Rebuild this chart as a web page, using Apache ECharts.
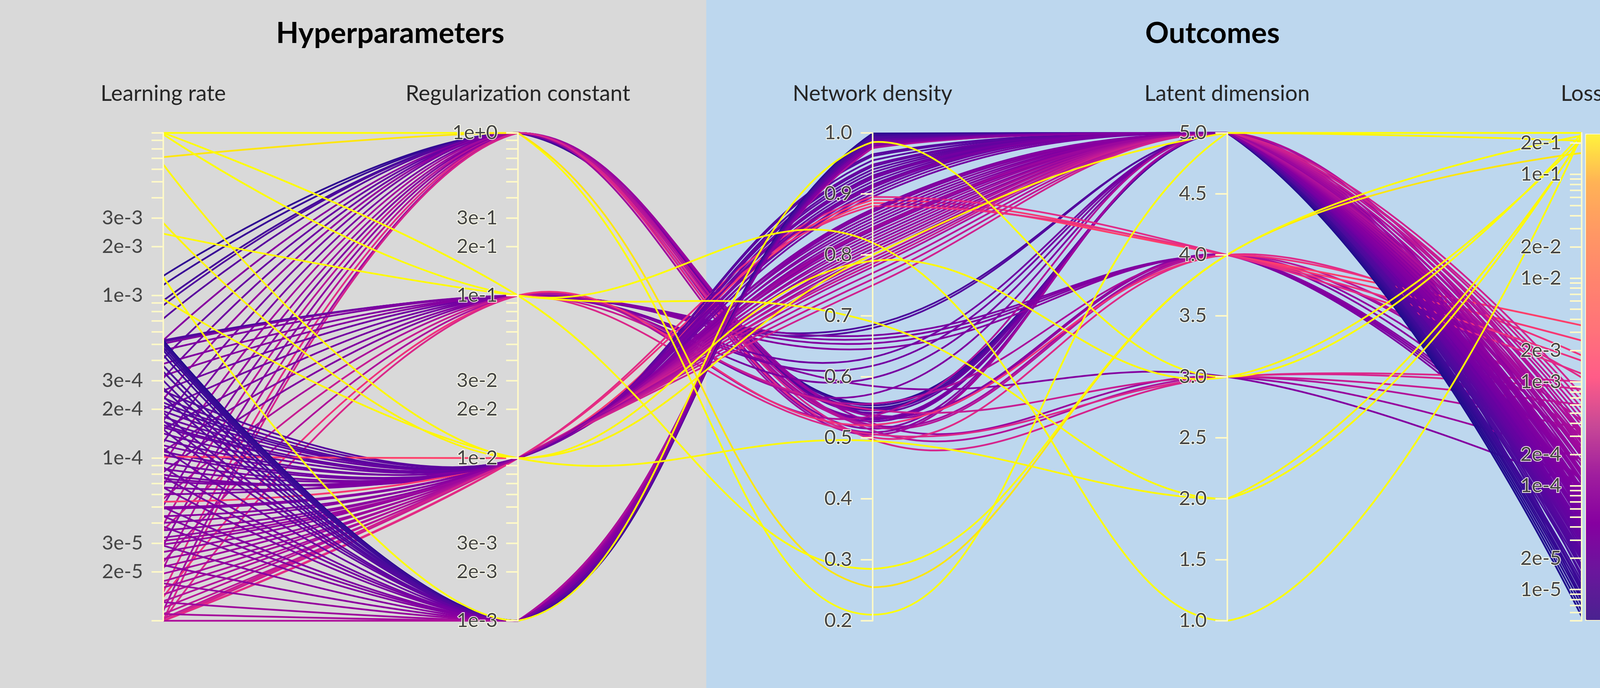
<!DOCTYPE html>
<html>
<head>
<meta charset="utf-8">
<script src="https://cdn.jsdelivr.net/npm/echarts@6/dist/echarts.min.js"></script>
<style>
html,body{margin:0;padding:0;background:#bdd7ee;overflow:hidden;}
#chart{width:4400px;height:1760px;}
</style>
</head>
<body>
<div id="chart"></div>
<script>
// ---------------- names & labels ----------------
const axisNames = ['Learning rate', 'Regularization constant', 'Network density', 'Latent dimension', 'Loss'];
const groupTitles = ['Hyperparameters', 'Outcomes'];
const lrLabelValues = [3e-3, 2e-3, 1e-3, 3e-4, 2e-4, 1e-4, 3e-5, 2e-5];
const regLabelValues = [1, 3e-1, 2e-1, 1e-1, 3e-2, 2e-2, 1e-2, 3e-3, 2e-3, 1e-3];
const lossLabelValues = [2e-1, 1e-1, 2e-2, 1e-2, 2e-3, 1e-3, 2e-4, 1e-4, 2e-5, 1e-5];

// ---------------- runs (one entry per line) ----------------
const learningRate = [
  // regularization 1e+0
  1.32e-3, 1.16e-3, 9.3e-4, 8.7e-4, 7.2e-4, 5.3e-4, 4.1e-4, 3.1e-4, 2.3e-4, 1.7e-4,
  1.25e-4, 9.2e-5, 6.8e-5, 5.1e-5, 3.9e-5, 2.9e-5, 2.1e-5, 1.5e-5, 1.15e-5, 1.0e-5,
  // regularization 1e-1
  5.3e-4, 5.2e-4, 5.05e-4, 4.6e-4, 3.8e-4, 3.2e-4, 2.6e-4, 2.0e-4, 1.5e-4, 1.1e-4,
  8.2e-5, 5.6e-5, 3.6e-5, 2.3e-5, 1.4e-5, 1.0e-5,
  // regularization 1e-2
  2.6e-4, 2.35e-4, 2.1e-4, 1.95e-4, 1.8e-4, 1.68e-4, 1.55e-4, 1.42e-4, 1.3e-4, 1.2e-4,
  1.1e-4, 1.02e-4, 9.4e-5, 8.6e-5, 7.9e-5, 7.2e-5, 6.6e-5, 6.0e-5, 5.4e-5, 4.9e-5,
  4.4e-5, 4.0e-5, 3.6e-5, 3.25e-5, 2.95e-5, 2.65e-5, 2.4e-5, 2.15e-5, 1.95e-5, 1.75e-5,
  1.6e-5, 1.45e-5, 1.32e-5, 1.2e-5, 1.1e-5, 1.03e-5, 1.0e-5, 1.0e-5, 1.0e-5, 1.0e-5,
  2.2e-4, 1.6e-4, 1.05e-4, 7.5e-5, 5.0e-5, 3.1e-5,
  // regularization 1e-3
  5.3e-4, 5.25e-4, 5.2e-4, 5.15e-4, 5.1e-4, 5.0e-4, 4.8e-4, 4.3e-4, 3.7e-4, 3.0e-4,
  2.4e-4, 1.9e-4, 1.5e-4, 1.15e-4, 8.8e-5, 6.6e-5, 5.0e-5, 3.8e-5, 2.9e-5, 2.2e-5,
  1.7e-5, 1.3e-5, 1.1e-5, 1.0e-5,
  4.6e-4, 3.4e-4, 2.7e-4, 1.7e-4, 7.7e-5, 4.4e-5,
  // high-loss runs
  1.0e-2, 7.1e-3, 1.0e-2, 9.8e-3, 2.4e-3, 6.4e-3, 2.8e-3, 1.3e-3, 9.5e-4
];

const regularization = [
  1, 1, 1, 1, 1, 1, 1, 1, 1, 1,
  1, 1, 1, 1, 1, 1, 1, 1, 1, 1,
  0.1, 0.1, 0.1, 0.1, 0.1, 0.1, 0.1, 0.1, 0.1, 0.1,
  0.1, 0.1, 0.1, 0.1, 0.1, 0.1,
  0.01, 0.01, 0.01, 0.01, 0.01, 0.01, 0.01, 0.01, 0.01, 0.01,
  0.01, 0.01, 0.01, 0.01, 0.01, 0.01, 0.01, 0.01, 0.01, 0.01,
  0.01, 0.01, 0.01, 0.01, 0.01, 0.01, 0.01, 0.01, 0.01, 0.01,
  0.01, 0.01, 0.01, 0.01, 0.01, 0.01, 0.01, 0.01, 0.01, 0.01,
  0.01, 0.01, 0.01, 0.01, 0.01, 0.01,
  0.001, 0.001, 0.001, 0.001, 0.001, 0.001, 0.001, 0.001, 0.001, 0.001,
  0.001, 0.001, 0.001, 0.001, 0.001, 0.001, 0.001, 0.001, 0.001, 0.001,
  0.001, 0.001, 0.001, 0.001,
  0.001, 0.001, 0.001, 0.001, 0.001, 0.001,
  1, 1, 0.1, 0.1, 0.1, 0.01, 0.01, 0.001, 0.01
];

const networkDensity = [
  0.556, 0.549, 0.553, 0.545, 0.547, 0.538, 0.541, 0.530, 0.535, 0.527,
  0.532, 0.521, 0.524, 0.515, 0.518, 0.509, 0.512, 0.501, 0.505, 0.497,
  0.685, 0.680, 0.668, 0.662, 0.655, 0.646, 0.632, 0.618, 0.598, 0.585,
  0.572, 0.556, 0.546, 0.536, 0.521, 0.506,
  0.955, 0.940, 0.965, 0.930, 0.920, 0.945, 0.905, 0.915, 0.935, 0.895,
  0.925, 0.885, 0.910, 0.870, 0.900, 0.860, 0.875, 0.850, 0.890, 0.840,
  0.865, 0.830, 0.855, 0.820, 0.845, 0.810, 0.835, 0.800, 0.825, 0.790,
  0.815, 0.780, 0.805, 0.770, 0.795, 0.760, 0.785, 0.750, 0.880, 0.895,
  0.962, 0.948, 0.928, 0.912, 0.872, 0.842,
  0.998, 0.996, 0.999, 0.995, 0.997, 0.993, 0.994, 0.990, 0.992, 0.988,
  0.991, 0.986, 0.989, 0.984, 0.987, 0.982, 0.985, 0.980, 0.983, 0.978,
  0.981, 0.976, 0.979, 0.975,
  0.996, 0.993, 0.990, 0.987, 0.983, 0.979,
  0.21, 0.255, 0.285, 0.82, 0.69, 0.79, 0.80, 0.985, 0.495
];

const latentDimension = [
  5, 5, 5, 5, 5, 4, 5, 5, 4, 5,
  5, 4, 3, 5, 4, 5, 3, 4, 5, 3,
  5, 5, 4, 4, 4, 4, 5, 5, 5, 3,
  5, 4, 3, 5, 4, 3,
  5, 5, 5, 5, 5, 5, 5, 5, 5, 5,
  5, 4, 5, 5, 5, 5, 5, 5, 4, 5,
  5, 5, 5, 5, 5, 5, 5, 5, 5, 5,
  5, 5, 5, 5, 5, 5, 5, 5, 4, 4,
  5, 5, 5, 5, 5, 5,
  5, 5, 5, 5, 5, 5, 5, 5, 5, 5,
  5, 5, 5, 5, 5, 5, 5, 5, 5, 5,
  5, 5, 5, 5,
  5, 5, 5, 5, 5, 5,
  5, 4, 4, 1, 2, 3, 5, 3, 2
];

const loss = [
  8.0e-6, 1.0e-5, 1.3e-5, 1.7e-5, 2.3e-5, 1.1e-4, 3.4e-5, 4.2e-5, 1.6e-4, 5.5e-5,
  6.5e-5, 2.4e-4, 1.8e-4, 9.0e-5, 4.2e-4, 1.3e-4, 3.5e-4, 1.1e-3, 2.2e-4, 8.5e-4,
  1.6e-5, 2.0e-5, 7.0e-5, 8.0e-5, 9.0e-5, 1.0e-4, 4.5e-5, 5.2e-5, 6.0e-5, 9.5e-5,
  8.0e-5, 3.0e-4, 6.0e-4, 3.2e-4, 1.8e-3, 1.0e-3,
  2.2e-5, 2.6e-5, 2.0e-5, 3.0e-5, 3.4e-5, 2.8e-5, 4.0e-5, 3.8e-5, 3.2e-5, 5.0e-5,
  4.4e-5, 3.5e-3, 5.5e-5, 6.5e-5, 6.0e-5, 7.5e-5, 7.0e-5, 8.5e-5, 2.5e-3, 9.5e-5,
  1.05e-4, 1.15e-4, 1.25e-4, 1.4e-4, 1.55e-4, 1.7e-4, 1.9e-4, 2.1e-4, 2.4e-4, 2.7e-4,
  3.0e-4, 3.4e-4, 3.8e-4, 4.3e-4, 4.9e-4, 5.6e-4, 6.5e-4, 7.5e-4, 1.6e-3, 1.2e-3,
  2.4e-5, 3.6e-5, 4.8e-5, 6.8e-5, 1.1e-4, 2.0e-4,
  5.5e-6, 6.2e-6, 7.0e-6, 7.8e-6, 8.6e-6, 9.5e-6, 1.05e-5, 1.2e-5, 1.4e-5, 1.7e-5,
  2.1e-5, 2.6e-5, 3.2e-5, 4.0e-5, 5.0e-5, 6.2e-5, 7.6e-5, 9.2e-5, 1.1e-4, 1.35e-4,
  1.7e-4, 2.1e-4, 2.6e-4, 3.2e-4,
  1.1e-5, 1.55e-5, 1.9e-5, 2.9e-5, 5.6e-5, 8.4e-5,
  0.25, 0.16, 0.235, 0.24, 0.23, 0.22, 0.21, 0.245, 0.22
];

// axis ranges
const lrRange = [1e-5, 1e-2];
const regRange = [1e-3, 1];
const densityRange = [0.2, 1.0];
const latentRange = [1, 5];
const lossRange = [5e-6, 0.25];

// colours (line colour scale and the lighter colour bar)
const lineColors = ['#1b0b8a', '#4a0a9c', '#7000a2', '#8c00a0', '#b4139a', '#e02a88', '#ff3d6c', '#ff5a58', '#ff8a3c', '#ffc21e', '#ffff00'];
const barColors = ['#4a2290', '#6a169c', '#8600a0', '#a01e9e', '#c84896', '#ff5c88', '#ff7379', '#ff846e', '#ff9864', '#ffb256', '#fff23c'];

// ---------------- helpers ----------------
function logTicks(lo, hi) {
  const out = [];
  for (let e = Math.floor(Math.log10(lo)) - 1; e <= Math.ceil(Math.log10(hi)); e++) {
    for (let k = 1; k <= 9; k++) {
      const v = +(k * Math.pow(10, e)).toPrecision(6);
      if (v >= lo * 0.999999 && v <= hi * 1.000001) out.push(v);
    }
  }
  return out;
}
function sci(v) {
  const e = Math.floor(Math.log10(v) + 1e-9);
  const m = Math.round(v / Math.pow(10, e));
  return m + 'e' + (e >= 0 ? '+' + e : String(e));
}

const FONT = 'Lato, "Noto Sans", sans-serif';
const halo = { textBorderColor: 'rgba(255,255,236,0.9)', textBorderWidth: 4 };

const data = learningRate.map((lr, i) => [
  lr, regularization[i], networkDensity[i], latentDimension[i], loss[i], Math.log10(loss[i])
]);

function logAxis(dim, name, range, labels, withHalo) {
  return {
    dim, name, type: 'log', logBase: 10, min: range[0], max: range[1], z: 5,
    axisTick: { customValues: logTicks(range[0], range[1]) },
    axisLabel: Object.assign({ customValues: labels, formatter: v => sci(v) }, withHalo ? halo : {})
  };
}

const chart = echarts.init(document.getElementById('chart'), null, { renderer: 'canvas' });
chart.setOption({
  animation: false,
  backgroundColor: '#bdd7ee',
  textStyle: { fontFamily: FONT },
  graphic: {
    elements: [
      { type: 'rect', silent: true, z: -10, shape: { x: 0, y: 0, width: 1808, height: 1760 }, style: { fill: '#d9d9d9' } },
      { type: 'rect', silent: true, z: -10, shape: { x: 1808, y: 0, width: 2592, height: 1760 }, style: { fill: '#bdd7ee' } }
    ]
  },
  title: [
    { text: groupTitles[0], left: 999, top: 48, textAlign: 'center', padding: 0,
      textStyle: { fontFamily: FONT, fontWeight: 'bold', fontSize: 75, color: '#000' } },
    { text: groupTitles[1], left: 3104, top: 48, textAlign: 'center', padding: 0,
      textStyle: { fontFamily: FONT, fontWeight: 'bold', fontSize: 75, color: '#000' } }
  ],
  parallel: {
    left: 418, right: 351, top: 340, bottom: 172,
    layout: 'horizontal',
    parallelAxisDefault: {
      nameLocation: 'end',
      nameGap: 72,
      nameTextStyle: { fontFamily: FONT, fontSize: 56, color: '#262626' },
      axisLine: { lineStyle: { color: '#fff9c8', width: 4 } },
      axisTick: { show: true, length: -30, lineStyle: { color: '#fff9c8', width: 4 } },
      axisLabel: { margin: -52, align: 'right', fontFamily: FONT, fontSize: 51, color: '#444444' },
      splitLine: { show: false }
    }
  },
  parallelAxis: [
    logAxis(0, axisNames[0], lrRange, lrLabelValues, false),
    logAxis(1, axisNames[1], regRange, regLabelValues, true),
    { dim: 2, name: axisNames[2], type: 'value', min: densityRange[0], max: densityRange[1], interval: 0.1, z: 5,
      axisLabel: Object.assign({ formatter: v => v.toFixed(1) }, halo) },
    { dim: 3, name: axisNames[3], type: 'value', min: latentRange[0], max: latentRange[1], interval: 0.5, z: 5,
      axisLabel: Object.assign({ formatter: v => v.toFixed(1) }, halo) },
    logAxis(4, axisNames[4], lossRange, lossLabelValues, true)
  ],
  visualMap: {
    type: 'continuous',
    seriesIndex: 0,
    dimension: 5,
    min: Math.log10(lossRange[0]),
    max: Math.log10(lossRange[1]),
    calculable: false,
    hoverLink: false,
    orient: 'vertical',
    left: 4058,
    top: 342,
    itemWidth: 150,
    itemHeight: 1242,
    padding: 0,
    borderColor: '#fff9cf',
    borderWidth: 4,
    inRange: { color: lineColors },
    controller: { inRange: { color: barColors } }
  },
  series: [{
    type: 'parallel',
    smooth: 0.4,
    silent: true,
    z: 2,
    lineStyle: { width: 4.5, opacity: 1 },
    data: data
  }]
});

// keep each smoothed curve inside the span of its own points (no overshoot past the axes)
(function constrainCurves() {
  const zr = chart.getZr();
  zr.storage.getDisplayList(true).forEach(el => {
    if (el.type === 'polyline' && el.shape && el.shape.smooth && el.shape.points && el.shape.points.length === axisNames.length) {
      el.setShape('smoothConstraint', [[Infinity, Infinity], [-Infinity, -Infinity]]);
    }
  });
  zr.refreshImmediately();
})();
</script>
</body>
</html>
